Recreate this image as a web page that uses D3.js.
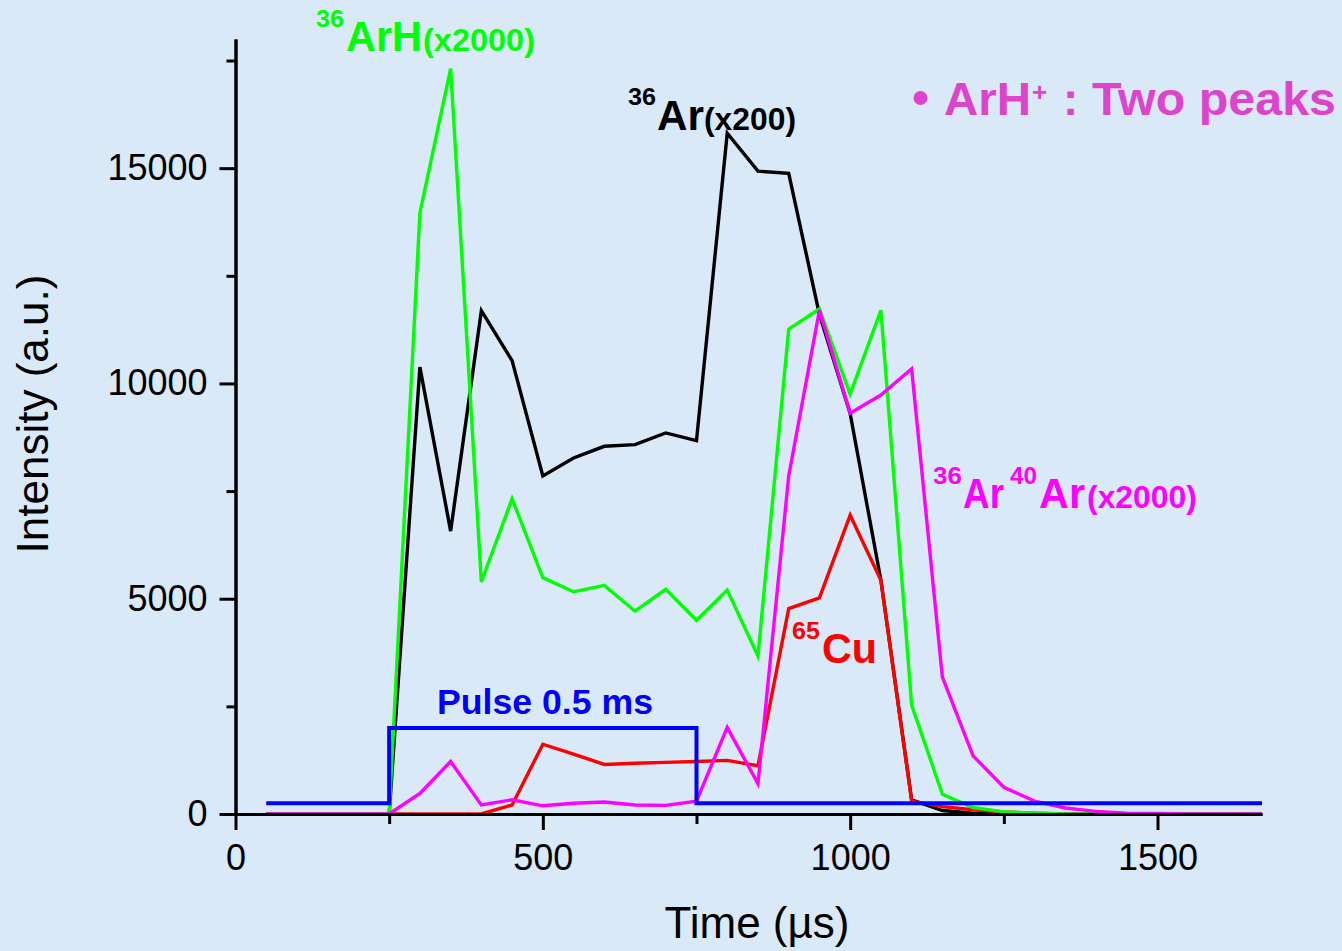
<!DOCTYPE html>
<html>
<head>
<meta charset="utf-8">
<script src="https://cdn.jsdelivr.net/npm/d3@7"></script>
<style>
  html, body { margin: 0; padding: 0; background: #dae9f8; }
  svg { display: block; }
  text { font-family: "Liberation Sans", Arial, sans-serif; }
</style>
</head>
<body>
<svg id="chart" width="1342" height="951"></svg>
<script>
// Sampling times (µs)
const times = [50,100,150,200,250,300,350,400,450,500,550,600,650,700,750,800,850,900,950,1000,1050,1100,1150,1200,1250,1300,1350,1400,1450,1500,1550,1600,1650,1670];

// 36Ar signal (x200)
const ar36 = [0,0,0,0,0,10380,6570,11690,10530,7850,8270,8540,8580,8850,8670,15810,14930,14880,11600,9300,5430,330,80,20,0,0,0,0,0,0,0,0,0,0];
// 36ArH signal (x2000)
const arh36 = [0,0,0,0,0,13960,17310,5390,7320,5490,5160,5310,4710,5220,4500,5200,3670,11260,11730,9750,11700,2530,460,150,50,20,0,0,0,0,0,0,0,0];
// 65Cu signal
const cu65 = [0,0,0,0,0,0,0,0,210,1620,1390,1150,1180,1200,1220,1245,1120,4770,5020,6940,5430,300,170,100,50,20,0,0,0,0,0,0,0,0];
// 36Ar40Ar signal (x2000)
const ar36ar40 = [0,0,0,0,0,480,1220,210,330,190,250,280,210,200,300,2010,705,7850,11700,9310,9730,10340,3180,1350,620,300,140,60,20,10,0,0,0,0];

// Discharge pulse (0.5 ms), drawn as a step trace
const pulseTimes = [50,250,250,750,750,1670];
const pulseLevels = [250,250,2000,2000,250,250];

// Axis ticks
const xMajorTicks = [0,500,1000,1500];
const xMinorTicks = [250,750,1250];
const yMajorTicks = [0,5000,10000,15000];
const yMinorTicks = [2500,7500,12500,17500];

const svg = d3.select("#chart");
const W = 1342, H = 951;
svg.append("rect").attr("width", W).attr("height", H).attr("fill", "#dae9f8");

const x = d3.scaleLinear().domain([0, 1670]).range([235.5, 1262]);
const y = d3.scaleLinear().domain([0, 18000]).range([814, 39]);

// Series lines, drawn back to front
const series = [
  { values: ar36, color: "#000000" },
  { values: cu65, color: "#ff0000" },
  { values: arh36, color: "#00ff00" },
  { values: ar36ar40, color: "#ff00ff" }
];

const line = d3.line().x(d => x(d[0])).y(d => y(d[1]));

const plot = svg.append("g");
series.forEach(s => {
  plot.append("path")
    .datum(times.map((t, i) => [t, s.values[i]]))
    .attr("d", line)
    .attr("fill", "none")
    .attr("stroke", s.color)
    .attr("stroke-width", 3.4)
    .attr("stroke-linejoin", "miter");
});

plot.append("path")
  .datum(pulseTimes.map((t, i) => [t, pulseLevels[i]]))
  .attr("d", line)
  .attr("fill", "none")
  .attr("stroke", "#0000ff")
  .attr("stroke-width", 4);

// Axes
function styleAxis(g) {
  g.selectAll("path, line").attr("stroke", "#000").attr("stroke-width", 3);
  g.selectAll("text").attr("fill", "#000").style("font-size", "36px");
}

svg.append("g")
  .attr("transform", `translate(0,${y(0)})`)
  .call(d3.axisBottom(x).tickValues(xMinorTicks).tickSize(10).tickSizeOuter(0).tickFormat(""))
  .call(styleAxis);
svg.append("g")
  .attr("transform", `translate(0,${y(0)})`)
  .call(d3.axisBottom(x).tickValues(xMajorTicks).tickSize(16).tickPadding(14).tickSizeOuter(0).tickFormat(d3.format("d")))
  .call(styleAxis);

svg.append("g")
  .attr("transform", `translate(${x(0)},0)`)
  .call(d3.axisLeft(y).tickValues(yMinorTicks).tickSize(9).tickSizeOuter(0).tickFormat(""))
  .call(styleAxis);
svg.append("g")
  .attr("transform", `translate(${x(0)},0)`)
  .call(d3.axisLeft(y).tickValues(yMajorTicks).tickSize(16).tickPadding(12).tickSizeOuter(0).tickFormat(d3.format("d")))
  .call(styleAxis);

// Axis titles
svg.append("text")
  .attr("transform", "translate(48,414) rotate(-90)")
  .attr("text-anchor", "middle")
  .style("font-size", "44px")
  .text("Intensity (a.u.)");

svg.append("text")
  .attr("x", 757).attr("y", 938)
  .attr("text-anchor", "middle")
  .style("font-size", "44px")
  .text("Time (µs)");

// Annotations
function isotopeLabel(parts, color) {
  const g = svg.append("g").attr("fill", color).style("font-weight", "bold");
  parts.forEach(p => {
    g.append("text")
      .attr("x", p.x).attr("y", p.y)
      .style("font-size", p.size + "px")
      .attr("textLength", p.w).attr("lengthAdjust", "spacingAndGlyphs")
      .text(p.t);
  });
}

isotopeLabel([
  { t: "36", x: 316, y: 27, size: 24, w: 28 },
  { t: "ArH", x: 346, y: 51, size: 43, w: 76 },
  { t: "(x2000)", x: 423, y: 51, size: 31, w: 112 }
], "#00ff00");

isotopeLabel([
  { t: "36", x: 628, y: 105, size: 24, w: 28 },
  { t: "Ar", x: 657, y: 130, size: 43, w: 47 },
  { t: "(x200)", x: 704, y: 130, size: 31, w: 92 }
], "#000000");

isotopeLabel([
  { t: "36", x: 933, y: 484, size: 24, w: 29 },
  { t: "Ar", x: 963, y: 508, size: 43, w: 41 },
  { t: "40", x: 1010, y: 484, size: 24, w: 27 },
  { t: "Ar", x: 1039, y: 508, size: 43, w: 46 },
  { t: "(x2000)", x: 1087, y: 508, size: 31, w: 110 }
], "#ff00ff");

isotopeLabel([
  { t: "65", x: 792, y: 639, size: 24, w: 28 },
  { t: "Cu", x: 822, y: 663, size: 43, w: 55 }
], "#ff0000");

svg.append("text")
  .attr("x", 437).attr("y", 714)
  .attr("fill", "#0000ff")
  .style("font-weight", "bold").style("font-size", "35px")
  .attr("textLength", 216).attr("lengthAdjust", "spacingAndGlyphs")
  .text("Pulse 0.5 ms");

// Note at top right
const note = svg.append("g").attr("fill", "#dd44cc").style("font-weight", "bold");
note.append("circle").attr("cx", 920.5).attr("cy", 98).attr("r", 7);
note.append("text").attr("x", 944).attr("y", 115).style("font-size", "46px")
  .attr("textLength", 87).attr("lengthAdjust", "spacingAndGlyphs").text("ArH");
note.append("text").attr("x", 1032).attr("y", 101).style("font-size", "26px").text("+");
note.append("text").attr("x", 1063).attr("y", 115).style("font-size", "46px").text(":");
note.append("text").attr("x", 1092).attr("y", 115).style("font-size", "46px")
  .attr("textLength", 244).attr("lengthAdjust", "spacingAndGlyphs").text("Two peaks");
</script>
</body>
</html>
